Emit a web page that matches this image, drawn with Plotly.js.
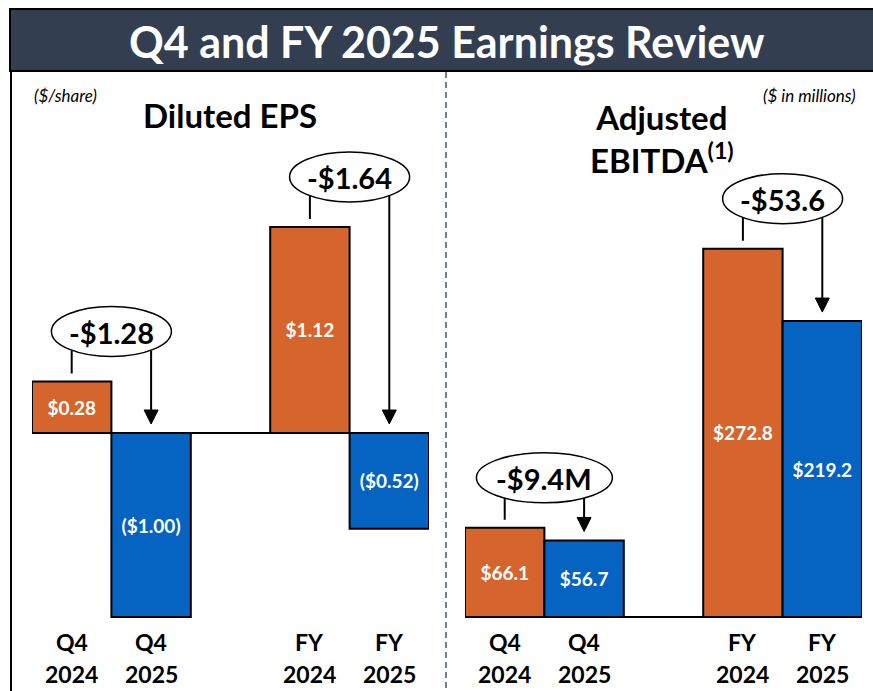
<!DOCTYPE html>
<html><head><meta charset="utf-8">
<script src="https://cdn.plot.ly/plotly-3.0.1.min.js"></script>
<style>html,body{margin:0;padding:0;background:#fff}</style>
</head><body><div id="chart" style="width:873px;height:691px"></div>
<script>
// ---- data ----
const periods = ["Q4 2024", "Q4 2025", "FY 2024", "FY 2025"];
const epsValues = [0.28, -1.00, 1.12, -0.52];
const ebitdaValues = [66.1, 56.7, 272.8, 219.2];
const epsChanges = ["-$1.28", "-$1.64"];
const ebitdaChanges = ["-$9.4M", "-$53.6"];
const slideTitle = "Q4 and FY 2025 Earnings Review";
const epsTitle = "Diluted EPS";
const ebitdaTitle = "Adjusted<br>EBITDA<sup>(1)</sup>";
const epsUnit = "($/share)";
const ebitdaUnit = "($ in millions)";

// ---- style / layout ----
const W = 873, H = 691;
const ORANGE = "#D5652D", BLUE = "#0563C1", HEADER = "#333F50";
const FONT = "Lato, 'Open Sans', sans-serif";
const barColors = periods.map(p => p.endsWith("2024") ? ORANGE : BLUE);
const spacer = " ";
const catOrder = [periods[0], periods[1], spacer, periods[2], periods[3]];

const fmtEps = v => v < 0 ? "($" + Math.abs(v).toFixed(2) + ")" : "$" + v.toFixed(2);
const fmtEbitda = v => "$" + v.toFixed(1);

const panels = [
  {key: "", x0: 32, x1: 429, base: 433, scale: 184, top: 200, bottom: 620,
   values: epsValues, changes: epsChanges, fmt: fmtEps},
  {key: "2", x0: 465, x1: 862, base: 617, scale: 1.35, top: 200, bottom: 620,
   values: ebitdaValues, changes: ebitdaChanges, fmt: fmtEbitda}
];

const PX = x => x / W, PY = y => 1 - y / H;

const traces = [], shapes = [], annotations = [];
const layout = {
  width: W, height: H, margin: {l: 0, r: 0, t: 0, b: 0},
  paper_bgcolor: "#fff", plot_bgcolor: "rgba(0,0,0,0)",
  showlegend: false, font: {family: FONT}, bargap: 0
};

const txtAnn = (text, x, y, size, opts) => Object.assign({
  text, x: PX(x), y: PY(y), xref: "paper", yref: "paper", showarrow: false,
  xanchor: "center", yanchor: "middle",
  font: {family: FONT, size, color: "#000", weight: 700}
}, opts || {});

panels.forEach(p => {
  const xa = "xaxis" + p.key, ya = "yaxis" + p.key;
  layout[xa] = {
    domain: [PX(p.x0), PX(p.x1)], type: "category", categoryorder: "array",
    categoryarray: catOrder, range: [-0.5, 4.5], showticklabels: false,
    showgrid: false, zeroline: false, showline: false, ticks: "", fixedrange: true,
    anchor: "y" + p.key
  };
  layout[ya] = {
    domain: [PY(p.bottom), PY(p.top)],
    range: [-(p.bottom - p.base) / p.scale, (p.base - p.top) / p.scale],
    showgrid: false, showticklabels: false, ticks: "", showline: false,
    zeroline: true, zerolinecolor: "#000", zerolinewidth: 2, fixedrange: true,
    anchor: "x" + p.key
  };
  traces.push({
    type: "bar", x: periods, y: p.values, xaxis: "x" + p.key, yaxis: "y" + p.key,
    width: 1, marker: {color: barColors, line: {color: "#000", width: 2}},
    text: p.values.map(p.fmt), textposition: "inside", insidetextanchor: "middle",
    constraintext: "none", textangle: 0,
    textfont: {family: FONT, size: 19, color: "#fff", weight: 700},
    hoverinfo: "skip", cliponaxis: false
  });

  const unit = (p.x1 - p.x0) / 5;
  const catX = name => p.x0 + (catOrder.indexOf(name) + 0.5) * unit;
  const topPx = v => p.base - Math.max(v, 0) * p.scale;

  // category labels
  periods.forEach(name => {
    const parts = name.split(" ");
    annotations.push(txtAnn(parts[0], catX(name), 642, 23));
    annotations.push(txtAnn(parts[1], catX(name), 674, 23));
  });

  // change callouts
  p.changes.forEach((label, j) => {
    const i = 2 * j;
    const a = periods[i], b = periods[i + 1];
    const xa0 = catX(a), xb0 = catX(b), mid = (xa0 + xb0) / 2;
    const fromTop = topPx(p.values[i]), toTop = topPx(p.values[i + 1]);
    const cy = fromTop - 50;
    const ew = label.includes("M") ? 136 : 120, eh = 50;
    shapes.push({type: "line", xref: "paper", yref: "paper",
      x0: PX(xa0), x1: PX(xa0), y0: PY(fromTop - 8), y1: PY(cy + 19),
      line: {color: "#000", width: 2}});
    const tip = toTop - 9;
    shapes.push({type: "line", xref: "paper", yref: "paper",
      x0: PX(xb0), x1: PX(xb0), y0: PY(cy + 19), y1: PY(tip - 12),
      line: {color: "#000", width: 2}});
    shapes.push({type: "path", xref: "paper", yref: "paper",
      path: `M ${PX(xb0)},${PY(tip)} L ${PX(xb0 - 7)},${PY(tip - 14)} L ${PX(xb0 + 7)},${PY(tip - 14)} Z`,
      fillcolor: "#000", line: {color: "#000", width: 1}});
    shapes.push({type: "circle", xref: "paper", yref: "paper",
      x0: PX(mid - ew / 2), x1: PX(mid + ew / 2), y0: PY(cy + eh / 2), y1: PY(cy - eh / 2),
      fillcolor: "#fff", line: {color: "#000", width: 1.5}});
    annotations.push(txtAnn(label, mid, cy + 1, 29));
  });
});

// slide frame & header
shapes.unshift(
  {type: "rect", xref: "paper", yref: "paper", x0: PX(10), x1: PX(W + 5), y0: PY(71), y1: PY(9),
   fillcolor: HEADER, line: {color: "#000", width: 2}, layer: "below"},
  {type: "line", xref: "paper", yref: "paper", x0: PX(11), x1: PX(11), y0: PY(71), y1: PY(H + 5),
   line: {color: "#000", width: 2}},
  {type: "line", xref: "paper", yref: "paper", x0: PX(446), x1: PX(446), y0: PY(72), y1: PY(H + 5),
   line: {color: "#3F5577", width: 1.5, dash: "6px,4px"}}
);

annotations.push(txtAnn(slideTitle, 447, 41, 43, {font: {family: FONT, size: 43, color: "#fff", weight: 700}}));
annotations.push(txtAnn(epsTitle, 230, 115, 33));
annotations.push(txtAnn(ebitdaTitle, 662, 139, 33));
annotations.push(txtAnn(epsUnit, 32, 95, 17, {xanchor: "left", font: {family: FONT, size: 17, color: "#000", style: "italic"}}));
annotations.push(txtAnn(ebitdaUnit, 858, 95, 17, {xanchor: "right", font: {family: FONT, size: 17, color: "#000", style: "italic"}}));

layout.shapes = shapes;
layout.annotations = annotations;
Plotly.newPlot("chart", traces, layout, {displayModeBar: false, staticPlot: true});
</script></body></html>
